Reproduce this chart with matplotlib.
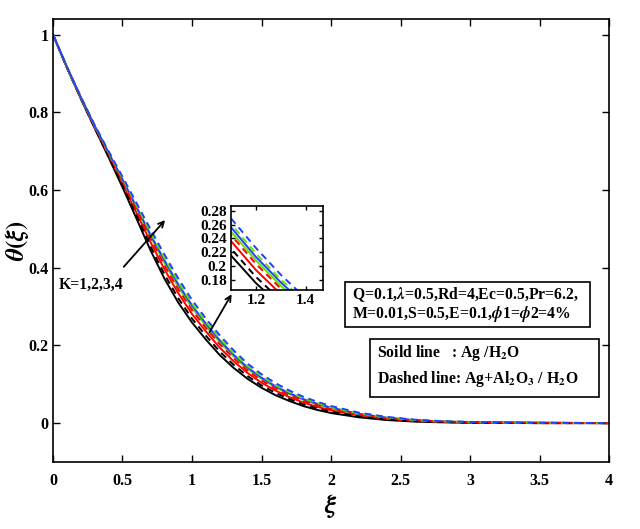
import numpy as np
import matplotlib
matplotlib.use('Agg')
import matplotlib.pyplot as plt
from matplotlib.patches import Rectangle

plt.rcParams['font.family'] = 'Liberation Serif'
plt.rcParams['font.weight'] = 'bold'
plt.rcParams['mathtext.fontset'] = 'stix'

# Valores
xi = [0, 0.1, 0.2, 0.3, 0.4, 0.5, 0.6, 0.7, 0.8, 0.9, 1.0, 1.1, 1.2, 1.3, 1.4,
      1.5, 1.6, 1.7, 1.8, 1.9, 2.0, 2.2, 2.4, 2.6, 2.8, 3.0, 3.5, 4.0]

# Linhas sólidas: Ag/H2O, K = 1, 2, 3, 4
solid_k1 = [1.0, 0.915, 0.835, 0.759, 0.684, 0.607, 0.527, 0.446, 0.373, 0.311, 0.259, 0.215, 0.175, 0.142,
            0.114, 0.091, 0.072, 0.057, 0.044, 0.034, 0.026, 0.015, 0.008, 0.004, 0.002, 0.001, 0.0, 0.0]
solid_k2 = [1.0, 0.916, 0.837, 0.762, 0.690, 0.617, 0.542, 0.467, 0.397, 0.335, 0.281, 0.236, 0.194, 0.159,
            0.129, 0.104, 0.084, 0.067, 0.053, 0.042, 0.033, 0.020, 0.011, 0.006, 0.003, 0.002, 0.0, 0.0]
solid_k3 = [1.0, 0.916, 0.838, 0.764, 0.694, 0.625, 0.553, 0.481, 0.413, 0.351, 0.297, 0.250, 0.208, 0.171,
            0.139, 0.114, 0.092, 0.075, 0.060, 0.048, 0.038, 0.023, 0.013, 0.007, 0.004, 0.002, 0.001, 0.0]
solid_k4 = [1.0, 0.917, 0.839, 0.765, 0.696, 0.627, 0.557, 0.486, 0.420, 0.358, 0.303, 0.256, 0.213, 0.176,
            0.143, 0.117, 0.095, 0.077, 0.062, 0.050, 0.040, 0.024, 0.014, 0.008, 0.004, 0.003, 0.001, 0.0]

# Linhas tracejadas: Ag+Al2O3/H2O, K = 1, 2, 3, 4
dashed_k1 = [1.0, 0.915, 0.836, 0.760, 0.687, 0.612, 0.534, 0.456, 0.384, 0.322, 0.269, 0.225, 0.184, 0.150,
             0.121, 0.097, 0.078, 0.062, 0.048, 0.038, 0.029, 0.017, 0.009, 0.005, 0.003, 0.001, 0.0, 0.0]
dashed_k2 = [1.0, 0.916, 0.838, 0.763, 0.693, 0.622, 0.549, 0.476, 0.407, 0.345, 0.291, 0.245, 0.203, 0.167,
             0.135, 0.110, 0.089, 0.072, 0.057, 0.046, 0.036, 0.022, 0.012, 0.007, 0.004, 0.002, 0.001, 0.0]
dashed_k3 = [1.0, 0.917, 0.839, 0.766, 0.698, 0.630, 0.561, 0.492, 0.426, 0.364, 0.308, 0.261, 0.218, 0.180,
             0.147, 0.121, 0.098, 0.080, 0.064, 0.052, 0.041, 0.025, 0.015, 0.008, 0.005, 0.003, 0.001, 0.0]
dashed_k4 = [1.0, 0.917, 0.840, 0.767, 0.700, 0.634, 0.567, 0.500, 0.435, 0.373, 0.317, 0.269, 0.226, 0.187,
             0.153, 0.126, 0.103, 0.084, 0.068, 0.055, 0.044, 0.027, 0.016, 0.009, 0.005, 0.003, 0.001, 0.0]

solids = [solid_k1, solid_k2, solid_k3, solid_k4]
dashes = [dashed_k1, dashed_k2, dashed_k3, dashed_k4]
cores = ['black', '#ff0000', '#66e000', '#2040ff']

fig = plt.figure(figsize=(6.4, 5.29), dpi=100)
ax = fig.add_axes([0.0828, 0.1267, 0.8688, 0.8373])

def desenha(a, lw):
    for s, c in zip(solids, cores):
        a.plot(xi, s, '-', color=c, lw=lw)
    for d, c in zip(dashes, cores):
        a.plot(xi, d, '--', color=c, lw=lw, dashes=(3.5, 2.5))

desenha(ax, 1.4)
ax.set_xlim(0, 4)
ax.set_ylim(-0.1, 1.04)
ax.set_xticks(np.arange(0, 4.01, 0.5))
ax.set_xticklabels(['0', '0.5', '1', '1.5', '2', '2.5', '3', '3.5', '4'])
ax.set_yticks([0, 0.2, 0.4, 0.6, 0.8, 1.0])
ax.set_yticklabels(['0', '0.2', '0.4', '0.6', '0.8', '1'])
ax.tick_params(direction='in', top=True, right=True, labelsize=11.5, length=5, width=1)
ax.tick_params(axis='x', pad=8)
ax.tick_params(axis='y', pad=3)
for sp in ax.spines.values():
    sp.set_linewidth(1.2)
ax.set_xlabel(r'$\xi$', fontsize=19, fontweight='normal')
ax.xaxis.set_label_coords(0.5, -0.068)
ax.set_ylabel(r'$\theta(\xi)$', fontsize=18, fontweight='normal')
ax.yaxis.set_label_coords(-0.04, 0.5)

# Texto e setas
ax.text(0.04, 0.357, 'K=1,2,3,4', fontsize=11.3, fontweight='bold', ha='left', va='center')
ax.annotate('', xy=(0.82, 0.528), xytext=(0.496, 0.397),
            arrowprops=dict(arrowstyle='->', color='black', lw=1.3))
ax.annotate('', xy=(1.295, 0.338), xytext=(1.115, 0.227),
            arrowprops=dict(arrowstyle='->', color='black', lw=1.3))

# Caixas de texto
ax.add_patch(Rectangle((0.525, 0.3054), 0.441, 0.1018, transform=ax.transAxes,
                       fc='white', ec='black', lw=1.2, zorder=5))
ax.text(0.5378, 0.3552, 'Q=0.1,$\\lambda$=0.5,Rd=4,Ec=0.5,Pr=6.2,\nM=0.01,S=0.5,E=0.1,$\\phi$1=$\\phi$2=4%',
        transform=ax.transAxes, fontsize=11.3, fontweight='bold', ha='left', va='center',
        linespacing=1.05, zorder=6)

ax.add_patch(Rectangle((0.5701, 0.147), 0.412, 0.1312, transform=ax.transAxes,
                       fc='white', ec='black', lw=1.2, zorder=5))
ax.text(0.582, 0.2172, 'Soild line   : Ag /H$_\\mathbf{2}$O\nDashed line: Ag+Al$_\\mathbf{2}$O$_\\mathbf{3}$ / H$_\\mathbf{2}$O',
        transform=ax.transAxes, fontsize=11.3, fontweight='bold', ha='left', va='center',
        linespacing=1.4, zorder=6)

# Gráfico ampliado
axin = fig.add_axes([0.361, 0.4518, 0.144, 0.1588])
desenha(axin, 1.4)
axin.set_xlim(1.1, 1.47)
axin.set_ylim(0.165, 0.287)
axin.set_xticks([1.2, 1.4])
axin.set_yticks([0.18, 0.2, 0.22, 0.24, 0.26, 0.28])
axin.set_yticklabels(['0.18', '0.2', '0.22', '0.24', '0.26', '0.28'])
axin.tick_params(direction='in', top=True, right=True, labelsize=11, length=3, width=1, pad=3)
for sp in axin.spines.values():
    sp.set_linewidth(1.2)

fig.savefig('out.png', dpi=100)
